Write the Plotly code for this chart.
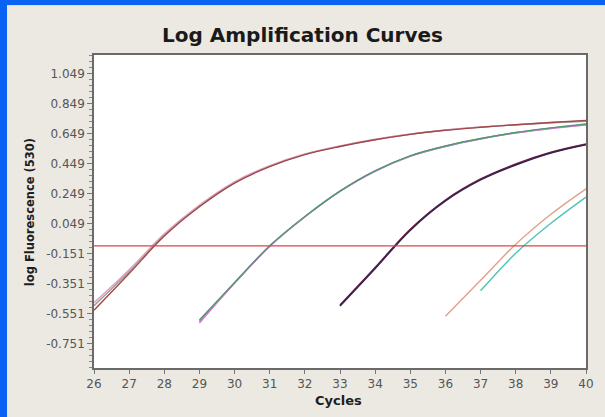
import plotly.graph_objects as go

# Cycle numbers and log fluorescence readings for each amplification curve
cycles_a = [26, 27, 28, 29, 30, 31, 32, 33, 34, 35, 36, 37, 38, 39, 40]
curve_a1 = [-0.53, -0.285, -0.035, 0.16, 0.318, 0.428, 0.508, 0.562, 0.607, 0.643, 0.67, 0.69, 0.707, 0.722, 0.735]
curve_a2 = [-0.48, -0.26, -0.02, 0.172, 0.327, 0.434, 0.512, 0.566, 0.61, 0.645, 0.672, 0.692, 0.708, 0.722, 0.733]
curve_a3 = [-0.50, -0.272, -0.028, 0.166, 0.322, 0.431, 0.51, 0.564, 0.608, 0.644, 0.671, 0.691, 0.706, 0.72, 0.73]

cycles_b = [29, 30, 31, 32, 33, 34, 35, 36, 37, 38, 39, 40]
curve_b1 = [-0.595, -0.345, -0.10, 0.095, 0.265, 0.40, 0.50, 0.565, 0.615, 0.655, 0.686, 0.712]
curve_b2 = [-0.615, -0.35, -0.105, 0.092, 0.262, 0.397, 0.497, 0.562, 0.612, 0.652, 0.682, 0.705]
curve_b3 = [-0.605, -0.348, -0.102, 0.094, 0.264, 0.399, 0.499, 0.564, 0.614, 0.654, 0.684, 0.708]

cycles_c = [33, 34, 35, 36, 37, 38, 39, 40]
curve_c1 = [-0.50, -0.25, 0.005, 0.20, 0.34, 0.44, 0.52, 0.575]
curve_c2 = [-0.495, -0.245, 0.01, 0.205, 0.345, 0.445, 0.523, 0.578]

cycles_d = [36, 37, 38, 39, 40]
curve_d = [-0.57, -0.33, -0.09, 0.11, 0.28]

cycles_e = [37, 38, 39, 40]
curve_e = [-0.40, -0.15, 0.05, 0.225]

threshold = -0.10
y_ticks = [-0.751, -0.551, -0.351, -0.151, 0.049, 0.249, 0.449, 0.649, 0.849, 1.049]
x_ticks = list(range(26, 41))

series = [
    (cycles_a, curve_a3, "#9a9a9a", 1.4),
    (cycles_a, curve_a2, "#dca0c0", 1.4),
    (cycles_a, curve_a1, "#a04848", 1.4),
    (cycles_b, curve_b3, "#8a8a8a", 1.4),
    (cycles_b, curve_b2, "#d878e0", 1.4),
    (cycles_b, curve_b1, "#4f9a6e", 1.4),
    (cycles_c, curve_c2, "#8a3040", 1.6),
    (cycles_c, curve_c1, "#3c2050", 1.8),
    (cycles_d, curve_d, "#e0a08a", 1.4),
    (cycles_e, curve_e, "#4cc4b4", 1.4),
]

fig = go.Figure()
for xs, ys, color, width in series:
    fig.add_trace(go.Scatter(
        x=xs, y=ys, mode="lines",
        line=dict(color=color, width=width, shape="spline", smoothing=1.0),
        showlegend=False, hoverinfo="skip",
    ))

# Threshold line across the full cycle range
fig.add_trace(go.Scatter(
    x=[x_ticks[0], x_ticks[-1]], y=[threshold, threshold], mode="lines",
    line=dict(color="#e04444", width=1.3), showlegend=False, hoverinfo="skip",
))

panel = "#ece9e3"
blue = "#0a62f2"
tick_font = dict(family="DejaVu Sans", size=12, color="#555555")

fig.update_layout(
    width=605, height=417,
    margin=dict(l=94, r=19, t=55, b=49),
    paper_bgcolor=panel,
    plot_bgcolor="#ffffff",
    title=dict(
        text="<b>Log Amplification Curves</b>",
        font=dict(family="DejaVu Sans", size=20, color="#1a1a1a"),
        x=0.5, xref="container", xanchor="center",
        y=1 - 35 / 417, yref="container", yanchor="middle",
    ),
    xaxis=dict(
        range=[26, 40], tickmode="array", tickvals=x_ticks,
        ticktext=[str(v) for v in x_ticks],
        showgrid=False, zeroline=False,
        showline=True, linecolor="#6a6a6a", linewidth=1.5, mirror=True,
        ticks="outside", ticklen=4, tickcolor="#777777",
        tickfont=tick_font,
    ),
    yaxis=dict(
        range=[-0.9147, 1.172], tickmode="array", tickvals=y_ticks,
        ticktext=[f"{v:.3f}" for v in y_ticks],
        showgrid=False, zeroline=False,
        showline=True, linecolor="#6a6a6a", linewidth=1.5, mirror=True,
        ticks="outside", ticklen=5, tickcolor="#777777",
        tickfont=tick_font,
        minor=dict(tickmode="linear", tick0=0.049, dtick=0.04,
                   ticks="outside", ticklen=3, tickcolor="#888888"),
    ),
    annotations=[
        dict(text="<b>log Fluorescence (530)</b>", xref="paper", yref="paper",
             x=0, y=0.498, xanchor="center", yanchor="middle", xshift=-64,
             textangle=-90, showarrow=False,
             font=dict(family="DejaVu Sans", size=11.5, color="#1e1e1e")),
        dict(text="<b>Cycles</b>", xref="paper", yref="paper",
             x=0.496, y=0, xanchor="center", yanchor="middle", yshift=-32,
             showarrow=False,
             font=dict(family="DejaVu Sans", size=13, color="#1e1e1e")),
    ],
    shapes=[
        # blue window edges along the left and top
        dict(type="rect", xref="paper", yref="paper",
             xsizemode="pixel", xanchor=0, x0=-94, x1=-87,
             ysizemode="pixel", yanchor=0, y0=-49, y1=368,
             fillcolor=blue, line=dict(width=0), layer="below"),
        dict(type="rect", xref="paper", yref="paper",
             xsizemode="pixel", xanchor=0, x0=-94, x1=511,
             ysizemode="pixel", yanchor=0, y0=363, y1=368,
             fillcolor=blue, line=dict(width=0), layer="below"),
        dict(type="rect", xref="paper", yref="paper",
             xsizemode="pixel", xanchor=0, x0=-87, x1=511,
             ysizemode="pixel", yanchor=0, y0=362, y1=363,
             fillcolor="#d8dde6", line=dict(width=0), layer="below"),
    ],
)

fig.write_html("out.html")
